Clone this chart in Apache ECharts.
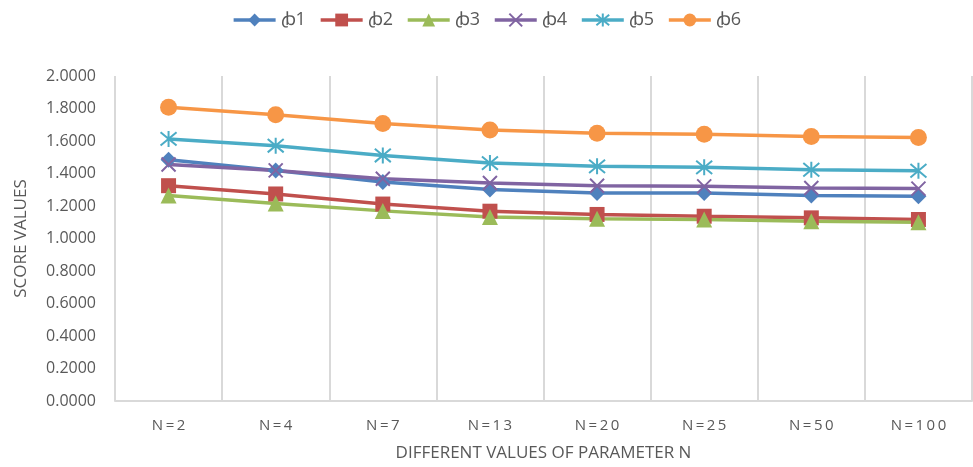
<!DOCTYPE html>
<html>
<head>
<meta charset="utf-8">
<script src="https://cdn.jsdelivr.net/npm/echarts@6/dist/echarts.min.js"></script>
<style>
  html, body { margin: 0; padding: 0; background: #fff; }
  #chart { width: 973px; height: 467px; }
</style>
</head>
<body>
<div id="chart"></div>
<script>
// Parameter N values along the x axis
const categories = ['N=2', 'N=4', 'N=7', 'N=13', 'N=20', 'N=25', 'N=50', 'N=100'];

// Score values per series
const b1 = [1.485, 1.419, 1.348, 1.301, 1.280, 1.280, 1.264, 1.260];
const b2 = [1.325, 1.274, 1.212, 1.168, 1.148, 1.137, 1.127, 1.117];
const b3 = [1.264, 1.215, 1.170, 1.133, 1.121, 1.117, 1.106, 1.100];
const b4 = [1.455, 1.419, 1.368, 1.342, 1.325, 1.321, 1.311, 1.307];
const b5 = [1.613, 1.571, 1.511, 1.464, 1.444, 1.438, 1.423, 1.417];
const b6 = [1.808, 1.761, 1.708, 1.667, 1.648, 1.642, 1.628, 1.622];

const seriesNames = ['ꞗ1', 'ꞗ2', 'ꞗ3', 'ꞗ4', 'ꞗ5', 'ꞗ6'];
const seriesData = [b1, b2, b3, b4, b5, b6];
const colors = ['#4F81BD', '#C0504D', '#9BBB59', '#8064A2', '#4BACC6', '#F79646'];

// Y axis tick values
const yTicks = [0, 0.2, 0.4, 0.6, 0.8, 1.0, 1.2, 1.4, 1.6, 1.8, 2.0];

const crossPath = 'path://M0,0L10,10M10,0L0,10';
const starPath = 'path://M5,-1L5,11M0,0L10,10M10,0L0,10';
const symbols = [
  { symbol: 'diamond', size: 16, stroke: 0 },
  { symbol: 'rect', size: 15, stroke: 0 },
  { symbol: 'triangle', size: 16, stroke: 0 },
  { symbol: crossPath, size: 14, stroke: 2 },
  { symbol: starPath, size: 16, stroke: 2 },
  { symbol: 'circle', size: 17, stroke: 0 }
];

const font = 'Open Sans, Liberation Sans, sans-serif';
const textColor = '#595959';

const series = seriesNames.map((name, i) => ({
  name: name,
  type: 'line',
  data: seriesData[i],
  symbol: symbols[i].symbol,
  symbolSize: symbols[i].size,
  showAllSymbol: true,
  lineStyle: { color: colors[i], width: 3.5 },
  itemStyle: {
    color: colors[i],
    borderColor: colors[i],
    borderWidth: symbols[i].stroke
  },
  emphasis: { disabled: true }
}));

const chart = echarts.init(document.getElementById('chart'), null, { renderer: 'canvas' });
chart.setOption({
  animation: false,
  color: colors,
  textStyle: { fontFamily: font },
  legend: {
    top: 6,
    left: 'center',
    itemWidth: 42,
    itemHeight: 16,
    itemGap: 13,
    lineStyle: { width: 3.5 },
    textStyle: { fontSize: 18, color: textColor, fontFamily: font },
    data: seriesNames
  },
  grid: { left: 115, right: 1, top: 76, bottom: 65, containLabel: false },
  xAxis: {
    type: 'category',
    data: categories,
    boundaryGap: true,
    name: 'DIFFERENT VALUES OF PARAMETER N',
    nameLocation: 'middle',
    nameGap: 44,
    nameTextStyle: { fontSize: 17, color: textColor, fontFamily: font },
    axisLine: { show: true, lineStyle: { color: '#D9D9D9', width: 2 } },
    axisTick: { show: false },
    splitLine: { show: true, lineStyle: { color: '#D9D9D9', width: 2 } },
    axisLabel: {
      color: textColor,
      fontSize: 15,
      margin: 17,
      formatter: v => v.split('').join('\u2009')
    }
  },
  yAxis: {
    type: 'value',
    min: yTicks[0],
    max: yTicks[yTicks.length - 1],
    interval: 0.2,
    name: 'SCORE VALUES',
    nameLocation: 'middle',
    nameGap: 85,
    nameRotate: 90,
    nameTextStyle: { fontSize: 17, color: textColor, fontFamily: font },
    axisLine: { show: false },
    axisTick: { show: false },
    splitLine: { show: false },
    axisLabel: {
      color: textColor,
      fontSize: 16,
      margin: 19,
      formatter: v => v.toFixed(4)
    }
  },
  series: series
});
</script>
</body>
</html>
